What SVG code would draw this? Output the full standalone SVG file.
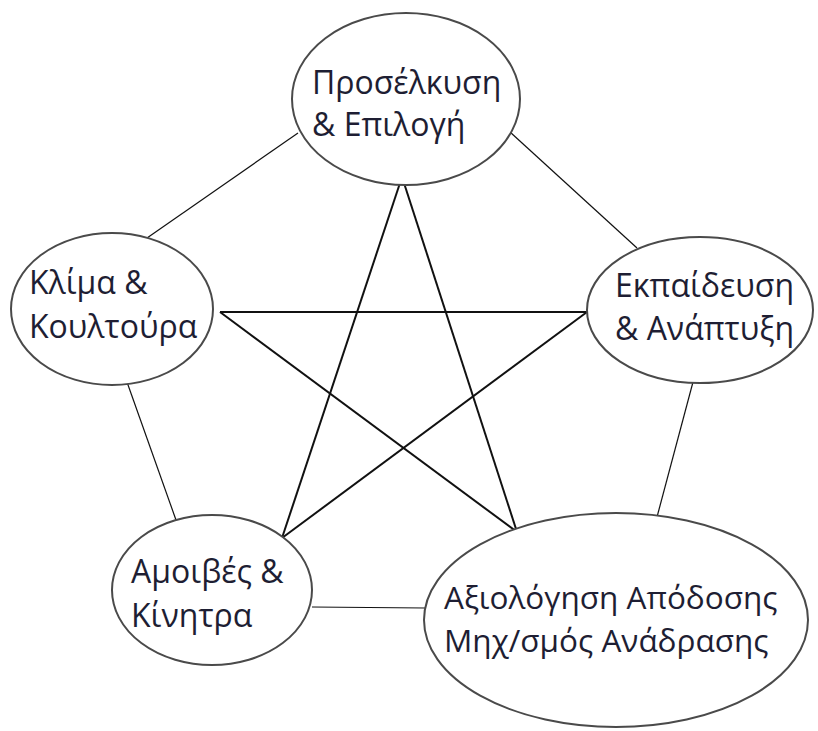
<svg xmlns="http://www.w3.org/2000/svg" width="818" height="731" viewBox="0 0 818 731">
<style>
.node ellipse{fill:#fff;stroke:#4a4a4a;stroke-width:2}
.node text{font-family:"Open Sans","Noto Sans","DejaVu Sans",sans-serif;font-size:32px;fill:#1e1e33}
.node text.sm{font-size:31.5px}
.edge{stroke:#111;stroke-width:1.2;fill:none}
.star{stroke:#111;stroke-width:2;fill:none}
</style>
<rect width="818" height="731" fill="#fff"/>
<g id="connectors">
<line class="edge" x1="298" y1="133" x2="147" y2="238"/>
<line class="edge" x1="510" y1="132" x2="637" y2="248"/>
<line class="edge" x1="122" y1="368" x2="176" y2="520"/>
<line class="edge" x1="693" y1="382" x2="657" y2="517"/>
<line class="edge" x1="312" y1="607" x2="425" y2="608"/>
<line class="star" x1="400" y1="183" x2="282" y2="538"/>
<line class="star" x1="404" y1="183" x2="517" y2="532"/>
<line class="star" x1="220" y1="312" x2="587" y2="312"/>
<line class="star" x1="220" y1="312" x2="517" y2="532"/>
<line class="star" x1="587" y1="312" x2="282" y2="538"/>
</g>
<g id="n-top" class="node">
<ellipse cx="406" cy="99" rx="114" ry="86"/>
<text x="312" y="94">Προσέλκυση</text>
<text x="312" y="136">&amp; Επιλογή</text>
</g>
<g id="n-left" class="node">
<ellipse cx="112" cy="309" rx="101" ry="76"/>
<text x="29" y="294">Κλίμα &amp;</text>
<text x="29" y="338">Κουλτούρα</text>
</g>
<g id="n-right" class="node">
<ellipse cx="700" cy="310" rx="113" ry="73"/>
<text x="615" y="297">Εκπαίδευση</text>
<text x="615" y="340">&amp; Ανάπτυξη</text>
</g>
<g id="n-bl" class="node">
<ellipse cx="212" cy="590" rx="100" ry="75"/>
<text x="131" y="583">Αμοιβές &amp;</text>
<text x="131" y="627">Κίνητρα</text>
</g>
<g id="n-br" class="node">
<ellipse cx="616" cy="620" rx="192" ry="107"/>
<text class="sm" x="444" y="609">Αξιολόγηση Απόδοσης</text>
<text class="sm" x="444" y="652">Μηχ/σμός Ανάδρασης</text>
</g>
</svg>
